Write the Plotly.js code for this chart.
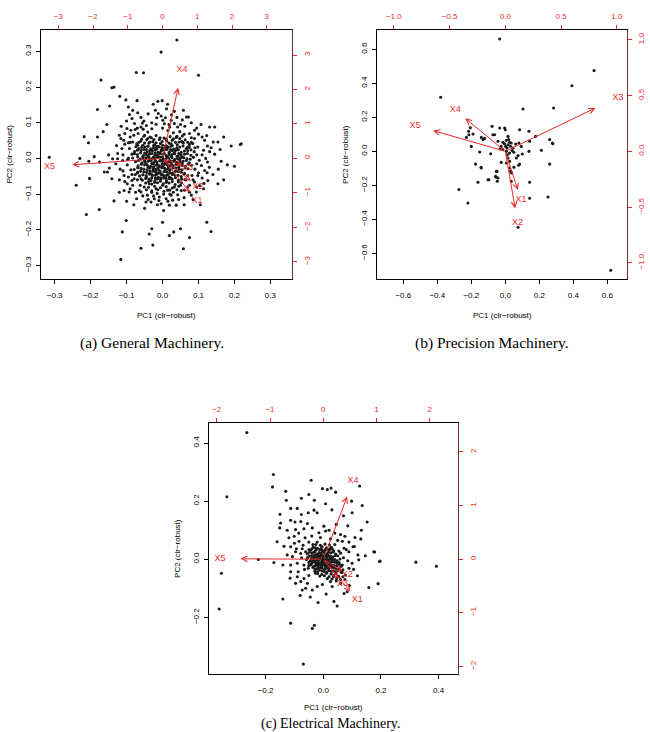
<!DOCTYPE html>
<html>
<head>
<meta charset="utf-8">
<script src="https://cdn.plot.ly/plotly-3.0.1.min.js"></script>
<style>html,body{margin:0;padding:0;background:#fff;}#chart{width:650px;height:732px;}</style>
</head>
<body>
<div id="chart"></div>
<script>
// ---------------- DATA ----------------
const varNames = ['X1', 'X2', 'X3', 'X4', 'X5'];

// Panel (a) General Machinery: scores [PC1, PC2]
const genScores = [
[0.040,0.332],[-0.004,0.298],[-0.073,0.241],[-0.053,0.240],[0.100,0.233],[-0.171,0.220],[-0.141,0.198],[-0.135,0.200],[-0.119,0.174],[-0.102,0.164],[-0.071,0.162],[-0.181,0.137],[-0.147,0.147],[-0.218,0.061],[-0.181,0.060],[-0.206,0.044],[0.191,0.035],[0.216,0.039],[0.219,0.041],[-0.315,0.003],
[-0.026,0.152],[-0.013,0.160],[-0.001,0.162],[0.014,0.152],[0.011,0.139],[0.033,0.132],[0.058,0.135],[0.067,0.116],[0.072,0.116],
[-0.095,0.144],[-0.083,0.135],[-0.092,0.123],[-0.069,0.128],[-0.052,0.105],[-0.056,0.099],
[-0.020,0.135],[-0.012,0.126],[-0.016,0.114],[-0.004,0.119],[0.001,0.107],[0.008,0.114],[0.024,0.107],[0.018,0.095],[0.033,0.098],[0.042,0.088],
[-0.099,0.084],[-0.088,0.079],[-0.076,0.081],[-0.068,0.070],[-0.054,0.082],[-0.041,0.074],[-0.116,0.056],[-0.108,0.051],[-0.095,0.044],[-0.083,0.046],[-0.069,0.037],[-0.113,0.028],[-0.125,0.014],
[0.107,0.095],[0.131,0.088],[0.145,0.088],[0.123,0.064],[0.117,0.051],[0.154,0.046],[0.141,0.046],[0.089,0.056],[0.084,0.042],[0.098,0.032],[0.114,0.023],[0.131,0.019],[0.145,0.012],[0.070,0.032],[0.056,0.046],[0.089,0.079],[0.075,0.070],
[-0.141,-0.057],[-0.240,-0.075],[-0.162,-0.038],[-0.153,-0.038],[-0.148,-0.027],[-0.212,-0.157],[-0.176,-0.143],[-0.135,-0.119],[-0.101,-0.174],[-0.112,-0.206],[-0.116,-0.283],[-0.060,-0.252],[-0.027,-0.243],[-0.037,-0.212],[-0.030,-0.197],[0.000,-0.179],[0.019,-0.216],[0.031,-0.206],[0.050,-0.197],[0.075,-0.222],[0.058,-0.253],[0.123,-0.179],[0.135,-0.205],[0.154,-0.071],[0.163,-0.008],[0.180,-0.018],[0.200,-0.022],[0.124,-0.040],[0.126,-0.062],[0.108,-0.020],[0.117,-0.034],[0.098,-0.048],[0.103,-0.076],[0.114,-0.085],[0.003,-0.146],[0.019,-0.131],[0.038,-0.131],[-0.004,-0.127],[-0.014,-0.130],[-0.032,-0.122],[-0.046,-0.122],[-0.072,-0.113],[-0.107,-0.090],[-0.093,-0.094],[-0.098,-0.071],[-0.083,-0.075],[-0.107,-0.048],[-0.095,-0.052],[-0.079,-0.057],[-0.125,-0.001],[-0.139,-0.001],[-0.111,-0.006],[-0.097,-0.003],[-0.083,0.001],[-0.060,-0.094],[-0.042,-0.103],[-0.023,-0.113],[-0.009,-0.108],[0.010,-0.113],[0.024,-0.103],[0.028,-0.117],[0.042,-0.102],[0.061,-0.089],[0.075,-0.075],[0.089,-0.066],[0.094,-0.094],[0.080,-0.103],[-0.051,-0.080],[-0.037,-0.071],[-0.018,-0.085],[0.000,-0.075],[0.014,-0.089],[0.033,-0.080],[-0.069,-0.038],[-0.060,-0.057],[-0.046,-0.048],[-0.032,-0.062],[-0.014,-0.057],[-0.203,-0.056],
[-0.092,0.028],[-0.085,0.012],[-0.098,-0.018],[-0.088,-0.032],[-0.076,-0.045],[-0.090,0.060],[-0.078,0.098],[-0.060,0.088],[-0.045,0.092],[-0.030,0.083],[-0.018,0.096],[0.000,0.085],[0.015,0.078],[0.030,0.072],[0.048,0.075],[0.062,0.090],[0.055,0.108],[0.080,0.058],[0.095,0.010],[0.102,-0.005],[0.090,-0.030],[0.082,-0.048],[0.065,-0.060],[0.070,-0.080],[0.052,-0.090],[0.040,-0.088],[0.020,-0.100],[0.003,-0.100],[-0.015,-0.098],[-0.030,-0.095],[-0.045,-0.088],[-0.062,-0.075],[-0.070,-0.060],[-0.085,-0.062],[-0.110,-0.035],[-0.120,-0.060],[-0.128,0.036],[-0.105,0.070],[-0.060,0.115],[0.040,0.115],[0.025,0.122],[0.100,0.068],[0.120,0.000],[0.130,-0.025],[0.110,-0.055],[0.140,-0.045],[0.085,-0.115],[0.060,-0.130],[-0.050,-0.140],[-0.080,-0.130],[-0.100,-0.120],[-0.120,-0.095],[0.105,-0.130],[-0.150,0.010],[-0.175,-0.010],[-0.190,0.005],[-0.230,0.000],[-0.205,-0.008],[-0.155,0.095],[-0.165,0.075],[0.170,0.060],[0.160,0.025],[0.155,-0.030],[0.170,-0.060],
[-0.115,0.090],[-0.100,0.105],[-0.085,0.112],[-0.040,0.125],[-0.030,0.100],[0.005,0.097],[0.020,0.088],[0.050,0.095],[0.080,0.100],[0.095,0.085],[0.110,0.060],[0.125,0.035],[0.135,0.030],[0.110,0.010],[0.125,-0.010],[0.100,-0.040],[0.115,-0.070],[0.095,-0.080],[0.075,-0.095],[0.060,-0.110],[0.045,-0.115],[0.030,-0.095],[0.015,-0.120],[-0.010,-0.118],[-0.025,-0.105],[-0.040,-0.115],[-0.055,-0.105],[-0.075,-0.095],[-0.090,-0.085],[-0.105,-0.065],[-0.118,-0.030],[-0.130,-0.015],[-0.110,0.010],[-0.105,0.040],[-0.120,0.065],[-0.080,0.065],[-0.070,0.085],[-0.050,0.065],[-0.035,0.060],[0.040,0.062],[0.060,0.068],[0.080,0.045],[0.090,0.030],[0.095,-0.015],[0.085,-0.060],[0.050,-0.075],[-0.065,-0.090],[-0.085,-0.045],[-0.095,0.000],[-0.090,0.045],
[-0.052,0.062],[-0.031,0.058],[-0.018,0.064],[0.004,0.057],[0.021,0.061],[0.038,0.059],[0.055,0.063],
[-0.061,0.048],[-0.044,0.052],[-0.027,0.047],[-0.009,0.053],[0.012,0.049],[0.027,0.051],[0.046,0.046],[0.063,0.052],
[-0.072,0.041],[-0.055,0.037],[-0.038,0.043],[-0.022,0.039],[-0.006,0.042],[0.009,0.036],[0.024,0.041],[0.041,0.038],[0.058,0.043],[0.075,0.039],
[-0.066,0.028],[-0.049,0.032],[-0.033,0.027],[-0.017,0.033],[-0.001,0.029],[0.015,0.031],[0.031,0.026],[0.048,0.032],[0.066,0.028],
[-0.078,0.019],[-0.060,0.022],[-0.043,0.018],[-0.028,0.021],[-0.012,0.017],[0.003,0.023],[0.019,0.018],[0.035,0.021],[0.052,0.017],[0.070,0.022],[0.088,0.019],
[-0.070,0.011],[-0.053,0.008],[-0.037,0.012],[-0.021,0.009],[-0.006,0.013],[0.010,0.008],[0.026,0.011],[0.043,0.007],[0.061,0.012],[0.079,0.009],
[-0.062,-0.002],[-0.046,0.002],[-0.030,-0.001],[-0.015,0.003],[0.001,-0.002],[0.017,0.001],[0.034,-0.003],[0.050,0.002],[0.068,-0.001],[0.086,0.003],
[-0.075,-0.009],[-0.057,-0.012],[-0.040,-0.008],[-0.024,-0.011],[-0.008,-0.007],[0.008,-0.012],[0.023,-0.009],[0.039,-0.011],[0.057,-0.008],[0.074,-0.012],
[-0.068,-0.021],[-0.050,-0.018],[-0.033,-0.022],[-0.017,-0.019],[-0.002,-0.023],[0.013,-0.018],[0.029,-0.021],[0.046,-0.017],[0.063,-0.022],[0.081,-0.019],
[-0.079,-0.031],[-0.060,-0.028],[-0.043,-0.032],[-0.026,-0.029],[-0.010,-0.033],[0.006,-0.028],[0.021,-0.031],[0.037,-0.027],[0.054,-0.032],[0.071,-0.029],
[-0.070,-0.041],[-0.052,-0.038],[-0.035,-0.042],[-0.019,-0.039],[-0.004,-0.043],[0.012,-0.038],[0.028,-0.041],[0.044,-0.037],[0.061,-0.042],
[-0.064,-0.049],[-0.045,-0.052],[-0.028,-0.048],[-0.012,-0.053],[0.004,-0.049],[0.019,-0.052],[0.035,-0.047],[0.052,-0.051],[0.070,-0.048],
[-0.056,-0.061],[-0.038,-0.058],[-0.021,-0.062],[-0.005,-0.059],[0.011,-0.063],[0.027,-0.058],[0.044,-0.061],[0.062,-0.059],
[-0.047,-0.069],[-0.030,-0.072],[-0.014,-0.068],[0.002,-0.071],[0.018,-0.069],[0.035,-0.073],[0.053,-0.068],
[-0.039,-0.081],[-0.022,-0.078],[-0.006,-0.082],[0.010,-0.079],[0.027,-0.083],[0.045,-0.078],
[-0.030,-0.091],[-0.013,-0.088],[0.004,-0.092],[0.020,-0.089],
[-0.040,0.035],[-0.025,0.036],[-0.012,0.034],[0.000,0.037],[0.013,0.033],[0.027,0.036],
[-0.045,0.025],[-0.030,0.024],[-0.016,0.026],[-0.003,0.024],[0.008,0.026],[0.022,0.025],[0.037,0.024],
[-0.050,0.015],[-0.035,0.014],[-0.020,0.016],[-0.008,0.015],[0.005,0.014],[0.018,0.016],[0.032,0.015],[0.045,0.014],
[-0.055,0.005],[-0.040,0.006],[-0.025,0.004],[-0.012,0.006],[0.000,0.005],[0.012,0.004],[0.025,0.006],[0.040,0.005],[0.055,0.004],
[-0.050,-0.005],[-0.035,-0.004],[-0.020,-0.006],[-0.005,-0.005],[0.007,-0.004],[0.020,-0.006],[0.033,-0.005],[0.048,-0.004],
[-0.045,-0.015],[-0.030,-0.014],[-0.015,-0.016],[-0.001,-0.015],[0.011,-0.014],[0.025,-0.016],[0.040,-0.015],[0.055,-0.014],
[-0.040,-0.025],[-0.025,-0.024],[-0.012,-0.026],[0.002,-0.025],[0.016,-0.024],[0.030,-0.026],[0.045,-0.025],
[-0.035,-0.035],[-0.020,-0.034],[-0.007,-0.036],[0.007,-0.035],[0.020,-0.034],[0.035,-0.036],
[-0.030,-0.045],[-0.015,-0.044],[0.000,-0.046],[0.015,-0.045],[0.028,-0.044],
[-0.020,-0.055],[-0.005,-0.054],[0.010,-0.056],[0.023,-0.055],
[-0.058,0.054],[-0.041,0.056],[-0.024,0.053],[-0.007,0.058],[0.010,0.054],[0.030,0.055],[0.048,0.056],
[-0.066,0.045],[-0.050,0.043],[-0.035,0.046],[-0.018,0.044],[-0.001,0.047],[0.018,0.043],[0.036,0.045],[0.053,0.047],[0.070,0.045],
[-0.074,0.033],[-0.058,0.031],[-0.041,0.034],[-0.025,0.030],[-0.009,0.032],[0.007,0.031],[0.023,0.034],[0.040,0.030],[0.057,0.035],[0.074,0.031],
[-0.070,0.023],[-0.052,0.025],[-0.036,0.022],[-0.020,0.024],[-0.004,0.021],[0.012,0.025],[0.027,0.022],[0.044,0.024],[0.061,0.021],[0.079,0.024],
[-0.078,0.013],[-0.061,0.015],[-0.045,0.011],[-0.029,0.014],[-0.014,0.010],[0.003,0.013],[0.018,0.010],[0.034,0.013],[0.051,0.010],[0.069,0.014],
[-0.069,0.004],[-0.054,0.001],[-0.038,0.003],[-0.022,0.000],[-0.007,0.003],[0.009,-0.001],[0.026,0.002],[0.042,-0.001],[0.059,0.002],[0.077,-0.002],
[-0.067,-0.006],[-0.049,-0.009],[-0.032,-0.006],[-0.016,-0.010],[0.000,-0.008],[0.016,-0.010],[0.031,-0.007],[0.048,-0.010],[0.066,-0.006],
[-0.059,-0.016],[-0.042,-0.020],[-0.025,-0.016],[-0.009,-0.021],[0.005,-0.017],[0.021,-0.021],[0.037,-0.017],[0.054,-0.020],[0.072,-0.016],
[-0.069,-0.026],[-0.052,-0.030],[-0.035,-0.027],[-0.018,-0.030],[-0.002,-0.026],[0.014,-0.030],[0.029,-0.027],[0.046,-0.030],[0.063,-0.027],
[-0.061,-0.036],[-0.044,-0.039],[-0.027,-0.036],[-0.011,-0.040],[0.004,-0.037],[0.020,-0.040],[0.036,-0.036],[0.052,-0.039],
[-0.055,-0.046],[-0.037,-0.044],[-0.020,-0.047],[-0.004,-0.045],[0.011,-0.048],[0.027,-0.045],[0.043,-0.047],[0.060,-0.044],
[-0.047,-0.056],[-0.030,-0.054],[-0.013,-0.057],[0.003,-0.055],[0.019,-0.057],[0.036,-0.054],[0.053,-0.058],
[-0.039,-0.065],[-0.022,-0.067],[-0.006,-0.064],[0.010,-0.067],[0.027,-0.065],[0.044,-0.066]
];
const genLoadX = [0.99, 1.02, 0.72, 0.56, -3.25];
const genLoadY = [-1.24, -0.82, -0.26, 2.56, -0.23];

// Panel (b) Precision Machinery
const precScores = [
[-0.033,0.661],[0.522,0.475],[0.392,0.386],[-0.380,0.318],[0.284,0.255],[0.104,0.249],[0.620,-0.700],[-0.273,-0.225],[-0.220,-0.304],[0.251,-0.269],[0.143,-0.276],[0.075,-0.447],[0.143,-0.182],[0.261,-0.075],[-0.161,-0.182],[-0.102,-0.167],[-0.053,-0.153],[-0.047,-0.176],[-0.053,-0.118],[0.037,-0.127],[0.051,-0.094],[0.078,-0.082],[-0.143,-0.094],[-0.175,-0.075],[-0.151,-0.004],[-0.086,-0.014],[-0.200,0.029],[-0.214,0.098],[-0.216,0.118],[-0.190,0.102],[-0.206,0.139],[-0.229,0.082],[-0.141,0.082],[-0.131,0.069],[-0.122,0.076],[-0.078,0.147],[-0.073,0.098],[-0.033,0.137],[-0.004,0.137],[0.000,0.127],[0.084,0.127],[0.139,0.118],[0.178,0.088],[0.261,0.069],[0.277,0.049],[0.280,0.045],[0.212,0.006],[0.139,0.000],[0.094,0.029],
[-0.063,0.098],[0.016,0.088],[-0.043,0.059],[-0.014,0.053],[0.006,0.065],[0.025,0.053],[0.002,0.029],[0.016,0.039],[0.035,0.049],[0.061,0.043],[0.080,0.049],[0.143,0.059],[-0.024,0.029],[-0.014,0.010],[0.006,0.000],[0.025,-0.010],[0.045,0.020],[0.065,-0.039],[0.075,-0.025],[0.016,-0.039],[0.025,-0.059],[0.006,-0.069],[0.100,-0.016],[-0.024,-0.065],[-0.141,-0.098],[0.025,-0.098],[0.031,-0.118],[0.084,-0.075],[-0.049,-0.118],[-0.057,-0.147],[-0.043,-0.157],[-0.096,-0.167],[0.035,-0.176],
[0.010,0.020],[-0.005,0.045],[0.030,0.030],[0.012,-0.020],[0.040,0.005],[-0.030,0.015],[0.020,0.070],[0.050,-0.005]
];
const precLoadX = [0.14, 0.11, 1.01, -0.45, -0.81];
const precLoadY = [-0.435, -0.64, 0.485, 0.37, 0.233];

// Panel (c) Electrical Machinery
const elecScores = [
[-0.265,0.436],[-0.173,0.292],[-0.176,0.249],[-0.334,0.215],[-0.042,0.272],[-0.130,0.234],[-0.128,0.203],[-0.003,0.243],[0.014,0.240],[0.027,0.245],[0.043,0.231],[0.126,0.252],[0.098,0.200],[0.135,0.185],[-0.050,0.223],[-0.076,0.210],[-0.031,0.203],[0.008,0.191],[-0.113,0.175],[-0.076,0.154],[-0.052,0.160],[-0.032,0.169],[-0.021,0.160],[-0.113,0.134],[-0.098,0.128],[-0.078,0.130],[-0.055,0.123],[-0.148,0.125],[-0.151,0.108],[0.152,0.128],[0.132,0.100],[0.130,0.070],[-0.125,0.100],[-0.096,0.102],[-0.067,0.105],[-0.038,0.108],[0.002,0.114],[0.008,0.097],[-0.015,0.091],[0.060,0.085],[0.075,0.079],[0.066,0.062],[0.089,0.059],[0.103,0.043],[0.080,0.033],[-0.119,0.074],[-0.101,0.079],[-0.084,0.062],[-0.063,0.074],[-0.050,0.059],[-0.036,0.051],[-0.021,0.059],[-0.006,0.045],[-0.136,0.045],[-0.113,0.043],[-0.093,0.036],[-0.073,0.036],[-0.050,0.033],[-0.027,0.039],[-0.003,0.030],[0.014,0.036],[0.040,0.051],[0.033,0.033],[0.054,0.028],[0.178,0.025],
[-0.353,-0.048],[-0.361,-0.171],[-0.225,-0.001],[-0.171,-0.011],[-0.113,-0.020],[0.321,-0.010],[0.392,-0.024],[0.195,-0.008],[0.197,-0.006],[0.146,0.012],[0.175,0.026],[0.108,0.044],[0.123,-0.002],[0.118,-0.057],[0.158,-0.097],[0.190,-0.084],[-0.140,-0.137],[-0.113,-0.220],[-0.038,-0.238],[-0.031,-0.227],[-0.069,-0.361],[-0.018,-0.149],[0.048,-0.161],[0.037,-0.145],[0.072,-0.118],[0.083,-0.112],[-0.073,-0.106],[-0.061,-0.100],[-0.038,-0.106],[-0.021,-0.094],[-0.096,-0.083],[-0.078,-0.077],[-0.055,-0.083],[-0.003,-0.087],[-0.090,-0.060],[-0.067,-0.066],[-0.050,-0.056],[-0.113,-0.043],[-0.087,-0.043],[-0.027,-0.048],[-0.125,0.015],[-0.107,0.009],[-0.096,0.026],[-0.078,0.020],[-0.061,0.026],[-0.090,-0.014],[-0.067,-0.020],[-0.050,-0.022],[-0.038,-0.008],[0.014,-0.066],[0.025,-0.077],[0.031,-0.094],[0.060,-0.083],[0.054,-0.060],[0.077,-0.054],[0.089,-0.031],[0.100,-0.014],[0.066,-0.020],[0.089,0.026],[0.072,0.038],[0.060,0.021],
[0.065,-0.045],[0.075,-0.070],[0.045,-0.075],[0.035,-0.060],[-0.065,-0.035],[-0.075,0.005],[-0.070,0.048],[0.050,0.065],[0.040,0.090],[0.025,0.070],[0.070,0.005],[0.085,-0.005],[-0.040,0.080],[-0.010,0.075],[0.020,0.100],[0.045,0.120],[0.085,0.115],[0.110,0.075],[0.120,0.015],[-0.100,0.055],[-0.085,0.090],[0.105,-0.035],[0.090,-0.090],[0.010,-0.120],[-0.045,-0.130],[-0.080,-0.125],[-0.115,-0.065],[-0.140,-0.020],[-0.160,0.060],[-0.150,0.155],[-0.090,0.175],[0.030,0.170],[0.070,0.150],[0.100,0.160],
[-0.045,0.031],[-0.028,0.028],[-0.012,0.032],[0.004,0.029],[0.020,0.031],[0.036,0.028],
[-0.055,0.019],[-0.038,0.022],[-0.021,0.018],[-0.006,0.021],[0.010,0.019],[0.026,0.022],[0.043,0.018],
[-0.048,0.011],[-0.031,0.008],[-0.015,0.012],[0.001,0.009],[0.017,0.011],[0.033,0.008],[0.050,0.012],
[-0.058,-0.001],[-0.041,0.002],[-0.024,-0.002],[-0.009,0.001],[0.007,-0.002],[0.023,0.002],[0.040,-0.001],[0.058,0.001],
[-0.050,-0.011],[-0.034,-0.008],[-0.018,-0.012],[-0.002,-0.009],[0.014,-0.011],[0.030,-0.008],[0.047,-0.012],
[-0.043,-0.019],[-0.027,-0.022],[-0.011,-0.018],[0.005,-0.021],[0.021,-0.019],[0.038,-0.022],[0.056,-0.018],
[-0.052,-0.031],[-0.036,-0.028],[-0.020,-0.032],[-0.004,-0.029],[0.012,-0.031],[0.028,-0.028],[0.045,-0.032],
[-0.029,-0.041],[-0.013,-0.038],[0.003,-0.042],[0.019,-0.039],[0.036,-0.041],[0.053,-0.038],
[-0.020,-0.049],[-0.005,-0.052],[0.011,-0.048],[0.027,-0.051],[0.044,-0.049],
[-0.035,0.041],[-0.020,0.038],[-0.004,0.042],[0.012,0.039],[0.028,0.041],
[-0.026,0.051],[-0.010,0.048],[0.006,0.052],[0.021,0.049],
[-0.030,0.015],[-0.020,0.016],[-0.008,0.014],[0.005,0.015],[0.015,0.016],
[-0.035,0.005],[-0.022,0.006],[-0.012,0.004],[0.000,0.005],[0.012,0.006],[0.024,0.004],
[-0.030,-0.005],[-0.017,-0.004],[-0.005,-0.006],[0.008,-0.005],[0.020,-0.004],[0.032,-0.006],
[-0.025,-0.015],[-0.012,-0.014],[0.000,-0.016],[0.012,-0.015],[0.025,-0.014],
[-0.018,-0.025],[-0.006,-0.024],[0.008,-0.026],[0.020,-0.025],[0.035,-0.024],
[-0.040,0.035],[-0.024,0.034],[-0.008,0.036],[0.008,0.034],[0.024,0.036],
[-0.047,0.024],[-0.030,0.025],[-0.014,0.023],[0.002,0.025],[0.018,0.024],[0.034,0.025],
[-0.054,0.006],[-0.040,0.013],[-0.024,0.011],[-0.006,0.012],[0.009,0.013],[0.025,0.011],[0.041,0.013],
[-0.046,-0.006],[-0.032,0.000],[-0.016,-0.001],[0.000,0.000],[0.015,-0.001],[0.031,0.001],[0.048,-0.005],
[-0.040,-0.014],[-0.026,-0.011],[-0.010,-0.013],[0.006,-0.011],[0.022,-0.012],[0.039,-0.010],[0.055,-0.011],
[-0.034,-0.025],[-0.018,-0.020],[-0.003,-0.019],[0.013,-0.021],[0.029,-0.020],[0.047,-0.022],[0.062,-0.025],
[-0.028,-0.034],[-0.012,-0.030],[0.004,-0.035],[0.020,-0.031],[0.037,-0.030],[0.054,-0.033],[0.068,-0.036],
[-0.020,-0.043],[-0.004,-0.040],[0.012,-0.044],[0.028,-0.041],[0.045,-0.042],[0.062,-0.045],
[-0.012,-0.058],[0.004,-0.057],[0.020,-0.060],[0.036,-0.056],[0.052,-0.058],[0.068,-0.060],
[0.030,-0.068],[0.046,-0.066],[0.060,-0.070]
];
const elecLoadX = [0.64, 0.45, 0.36, 0.56, -1.94];
const elecLoadY = [-0.75, -0.28, -0.45, 1.46, 0.01];

// tick values
const genTicksScore = [-0.3, -0.2, -0.1, 0.0, 0.1, 0.2, 0.3];
const genTicksLoad = [-3, -2, -1, 0, 1, 2, 3];
const precTicksScore = [-0.6, -0.4, -0.2, 0.0, 0.2, 0.4, 0.6];
const precTicksLoad = [-1.0, -0.5, 0.0, 0.5, 1.0];
const elecTicksScore = [-0.2, 0.0, 0.2, 0.4];
const elecTicksLoad = [-2, -1, 0, 1, 2];

const captions = ['(a) General Machinery.', '(b) Precision Machinery.', '(c) Electrical Machinery.'];
const xTitle = 'PC1 (clr\u2212robust)';
const yTitle = 'PC2 (clr\u2212robust)';

// ---------------- STYLE / LAYOUT ----------------
const W = 650, H = 732;
const RED = '#ec2a2a';
const FONT = 'Liberation Sans, Arial, Helvetica, sans-serif';
const SERIF = 'Liberation Serif, Times New Roman, serif';
const TICK = 8;

const panels = [
  {scores: genScores, lx: genLoadX, ly: genLoadY, tS: genTicksScore, tL: genTicksLoad, fS: '.1f', fL: 'd',
   range: [-0.338, 0.360], ratio: 10.35, box: [41, 292, 30, 279], xtGap: 36},
  {scores: precScores, lx: precLoadX, ly: precLoadY, tS: precTicksScore, tL: precTicksLoad, fS: '.1f', fL: '.1f',
   range: [-0.753, 0.714], ratio: 1.525, box: [377.3, 626.7, 30, 279.3], xtGap: 36},
  {scores: elecScores, lx: elecLoadX, ly: elecLoadY, tS: elecTicksScore, tL: elecTicksLoad, fS: '.1f', fL: 'd',
   range: [-0.395, 0.468], ratio: 5.416, box: [209.3, 458.3, 423.3, 674], xtGap: 33}
];

const px = v => v / W;
const py = v => 1 - v / H;

const traces = [];
const layout = {
  width: W, height: H,
  margin: {l: 0, r: 0, t: 0, b: 0},
  paper_bgcolor: '#fff', plot_bgcolor: 'rgba(0,0,0,0)',
  showlegend: false,
  font: {family: FONT, size: TICK, color: '#000'},
  annotations: []
};

panels.forEach((p, i) => {
  const nx = 2 * i + 1, ns = 2 * i + 2;
  const xP = 'x' + nx, yP = 'y' + nx, xS = 'x' + ns, yS = 'y' + ns;
  const keyXP = 'xaxis' + (nx === 1 ? '' : nx), keyYP = 'yaxis' + (nx === 1 ? '' : nx);
  const keyXS = 'xaxis' + ns, keyYS = 'yaxis' + ns;
  const xdom = [px(p.box[0]), px(p.box[1])];
  const ydom = [py(p.box[3]), py(p.box[2])];
  const secRange = [p.range[0] * p.ratio, p.range[1] * p.ratio];
  const common = {showgrid: false, zeroline: false, ticks: 'outside', ticklen: 4, tickwidth: 1, fixedrange: true};

  layout[keyXP] = Object.assign({}, common, {
    domain: xdom, range: p.range, anchor: yP, tickmode: 'array', tickvals: p.tS, tickformat: p.fS,
    tickcolor: '#000', showline: true, linecolor: '#000', linewidth: 1, mirror: true,
    tickfont: {family: FONT, size: TICK, color: '#000'}, ticklabelstandoff: 4
  });
  layout[keyYP] = Object.assign({}, common, {
    domain: ydom, range: p.range, anchor: xP, tickmode: 'array', tickvals: p.tS, tickformat: p.fS,
    tickcolor: '#000', showline: true, linecolor: '#000', linewidth: 1, mirror: true, tickangle: -90,
    tickfont: {family: FONT, size: TICK, color: '#000'}, ticklabelstandoff: 2
  });
  layout[keyXS] = Object.assign({}, common, {
    overlaying: xP, side: 'top', anchor: yP, range: secRange, tickmode: 'array', tickvals: p.tL, tickformat: p.fL,
    tickcolor: RED, showline: false,
    tickfont: {family: FONT, size: TICK, color: RED}, ticklabelstandoff: 3
  });
  layout[keyYS] = Object.assign({}, common, {
    overlaying: yP, side: 'right', anchor: xP, range: secRange, tickmode: 'array', tickvals: p.tL, tickformat: p.fL,
    tickcolor: RED, showline: true, linecolor: '#7a2a2a', linewidth: 1, tickangle: -90,
    tickfont: {family: FONT, size: TICK, color: RED}, ticklabelstandoff: 3
  });

  traces.push({
    type: 'scatter', mode: 'markers', xaxis: xP, yaxis: yP,
    x: p.scores.map(d => d[0]), y: p.scores.map(d => d[1]),
    marker: {size: 3.1, color: '#1a1a1a', line: {width: 0}}, hoverinfo: 'skip'
  });
  traces.push({
    type: 'scatter', mode: 'text', xaxis: xS, yaxis: yS,
    x: p.lx, y: p.ly, text: varNames, textposition: 'middle center',
    textfont: {family: FONT, size: 9, color: RED}, cliponaxis: false, hoverinfo: 'skip'
  });
  // loading arrows (R biplot draws them at 0.8 of the loading, labels at the loading)
  p.lx.forEach((lx, k) => {
    layout.annotations.push({
      xref: xS, yref: yS, axref: xS, ayref: yS,
      x: 0.8 * lx, y: 0.8 * p.ly[k], ax: 0, ay: 0,
      text: '', showarrow: true, arrowhead: 5, arrowsize: 1.1, arrowwidth: 1, arrowcolor: RED
    });
  });

  const cx = (p.box[0] + p.box[1]) / 2, cy = (p.box[2] + p.box[3]) / 2;
  layout.annotations.push({
    xref: 'paper', yref: 'paper', x: px(cx), y: py(p.box[3] + p.xtGap), xanchor: 'center', yanchor: 'middle',
    text: xTitle, showarrow: false, font: {family: FONT, size: TICK, color: '#000'}
  });
  layout.annotations.push({
    xref: 'paper', yref: 'paper', x: px(p.box[0] - 32), y: py(cy), xanchor: 'center', yanchor: 'middle',
    text: yTitle, textangle: -90, showarrow: false, font: {family: FONT, size: TICK, color: '#000'}
  });
});

const capPos = [[152, 343], [492, 343], [330, 724]];
const capSize = [15.5, 15.5, 14];
captions.forEach((c, i) => {
  layout.annotations.push({
    xref: 'paper', yref: 'paper', x: px(capPos[i][0]), y: py(capPos[i][1]), xanchor: 'center', yanchor: 'middle',
    text: c, showarrow: false, font: {family: SERIF, size: capSize[i], color: '#000'}
  });
});

Plotly.newPlot('chart', traces, layout, {staticPlot: true, displayModeBar: false});
</script>
</body>
</html>
